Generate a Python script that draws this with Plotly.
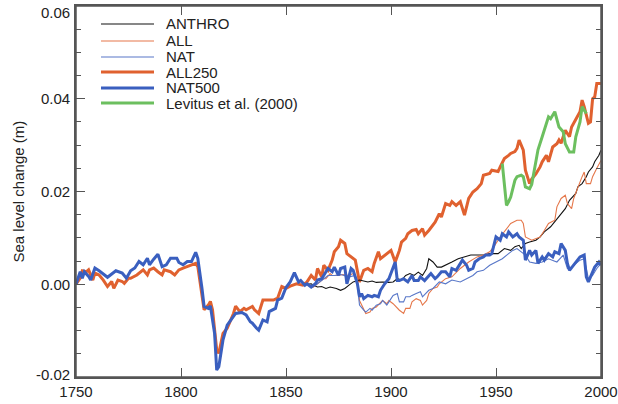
import plotly.graph_objects as go

# ALL250 (thick orange)
all250_years = [1750, 1752, 1753, 1755, 1756, 1758, 1759, 1761, 1763, 1765, 1767, 1768, 1770,
                1772, 1773, 1775, 1776, 1778, 1779, 1782, 1784, 1785, 1787, 1789, 1791, 1792,
                1795, 1797, 1799, 1801, 1803, 1805, 1807, 1808, 1810, 1811, 1813, 1814, 1815,
                1817, 1818, 1820, 1822, 1823, 1825, 1826, 1828, 1830, 1831, 1834, 1835, 1837,
                1839, 1841, 1844, 1846, 1848, 1850, 1852, 1855, 1857, 1858, 1860, 1862, 1864,
                1865, 1867, 1868, 1870, 1872, 1873, 1875, 1876, 1878, 1879, 1881, 1883, 1885,
                1887, 1889, 1891, 1892, 1894, 1895, 1897, 1898, 1900, 1902, 1904, 1905, 1907,
                1908, 1910, 1912, 1913, 1915, 1916, 1918, 1921, 1923, 1924, 1926, 1928, 1929,
                1931, 1933, 1935, 1937, 1939, 1941, 1943, 1944, 1947, 1948, 1951, 1952, 1954,
                1956, 1957, 1959, 1960, 1961, 1963, 1964, 1966, 1967, 1969, 1971, 1972, 1974,
                1975, 1977, 1979, 1980, 1981, 1983, 1985, 1986, 1988, 1990, 1991, 1992, 1994,
                1995, 1996, 1997, 1998, 2000]
all250_vals = [0.0, 0.0013, 0.0029, 0.0027, 0.0031, 0.0009, 0.0024, 0.0020, 0.0009, -0.0005,
               0.0006, -0.0009, 0.0009, 0.0006, 0.0002, 0.0013, 0.0013, 0.0017, 0.0020, 0.0031,
               0.0020, 0.0031, 0.0035, 0.0027, 0.0020, 0.0031, 0.0027, 0.0020, 0.0031, 0.0035,
               0.0038, 0.0042, 0.0045, 0.0038, -0.0026, -0.0055, -0.0045, -0.0037, -0.0055,
               -0.0141, -0.0149, -0.0106, -0.0095, -0.0084, -0.0063, -0.0047, -0.0059, -0.0052,
               -0.0055, -0.0048, -0.0055, -0.0063, -0.0034, -0.0034, -0.0034, -0.0030, -0.0005,
               -0.0009, -0.0004, 0.0001, 0.0000, -0.0002, 0.0005, 0.0019, 0.0009, 0.0034,
               0.0016, 0.0041, 0.0030, 0.0052, 0.0070, 0.0081, 0.0095, 0.0088, 0.0066, 0.0059,
               0.0052, 0.0005, 0.0030, 0.0034, 0.0027, 0.0045, 0.0070, 0.0055, 0.0063, 0.0066,
               0.0073, 0.0048, 0.0073, 0.0091, 0.0099, 0.0109, 0.0116, 0.0118, 0.0109, 0.0120,
               0.0106, 0.0116, 0.0134, 0.0152, 0.0145, 0.0174, 0.0170, 0.0178, 0.0170, 0.0178,
               0.0149, 0.0185, 0.0199, 0.0206, 0.0217, 0.0235, 0.0239, 0.0246, 0.0243, 0.0253,
               0.0271, 0.0278, 0.0282, 0.0286, 0.0293, 0.0311, 0.0289, 0.0246, 0.0217, 0.0227,
               0.0238, 0.0253, 0.0264, 0.0278, 0.0264, 0.0296, 0.0303, 0.0311, 0.0304, 0.0332,
               0.0318, 0.0339, 0.0354, 0.0372, 0.0397, 0.0383, 0.0347, 0.0350, 0.0400, 0.0404,
               0.0433, 0.0433]

# NAT500 (thick blue)
nat500_years = [1750, 1752, 1753, 1754, 1756, 1757, 1759, 1761, 1765, 1767, 1769, 1772, 1774,
                1776, 1778, 1780, 1782, 1784, 1785, 1787, 1789, 1791, 1793, 1795, 1798, 1799,
                1801, 1803, 1805, 1807, 1808, 1810, 1811, 1813, 1814, 1816, 1817, 1818, 1820,
                1822, 1824, 1826, 1829, 1831, 1833, 1834, 1836, 1837, 1839, 1841, 1842, 1845,
                1846, 1848, 1850, 1852, 1854, 1856, 1857, 1859, 1860, 1862, 1864, 1865, 1867,
                1868, 1870, 1872, 1873, 1875, 1876, 1878, 1879, 1881, 1882, 1884, 1885, 1886,
                1887, 1889, 1891, 1892, 1894, 1895, 1897, 1899, 1900, 1902, 1903, 1904, 1906,
                1908, 1910, 1911, 1913, 1914, 1916, 1918, 1919, 1921, 1922, 1924, 1926, 1928,
                1929, 1931, 1933, 1934, 1936, 1937, 1939, 1940, 1942, 1944, 1945, 1947, 1948,
                1950, 1952, 1953, 1955, 1956, 1958, 1960, 1961, 1963, 1964, 1966, 1967, 1969,
                1970, 1972, 1973, 1975, 1977, 1978, 1980, 1981, 1983, 1984, 1985, 1987, 1988,
                1990, 1992, 1993, 1994, 1996, 1997, 1999, 2000]
nat500_vals = [0.0, 0.0027, 0.0013, 0.0027, 0.0017, 0.0009, 0.0035, 0.0029, 0.0015, 0.0022,
               0.0029, 0.0024, 0.0013, 0.0029, 0.0035, 0.0049, 0.0042, 0.0056, 0.0042, 0.0054,
               0.0065, 0.0038, 0.0042, 0.0056, 0.0056, 0.0047, 0.0042, 0.0049, 0.0049, 0.0069,
               0.0056, -0.0009, -0.0048, -0.0052, -0.0047, -0.0106, -0.0185, -0.0178, -0.0120,
               -0.0088, -0.0075, -0.0063, -0.0061, -0.0066, -0.0081, -0.0084, -0.0095, -0.0099,
               -0.0077, -0.0081, -0.0059, -0.0052, -0.0034, -0.0030, -0.0007, 0.0005, 0.0025,
               0.0005, 0.0008, -0.0002, 0.0001, -0.0006, 0.0001, 0.0009, 0.0012, 0.0019, 0.0034,
               0.0027, 0.0037, 0.0019, 0.0034, 0.0037, 0.0001, 0.0034, 0.0030, 0.0001, -0.0027,
               -0.0020, -0.0031, -0.0024, -0.0027, -0.0024, -0.0027, -0.0013, 0.0001, 0.0012,
               0.0023, 0.0048, 0.0008, 0.0008, 0.0012, 0.0005, 0.0019, 0.0008, 0.0008, 0.0016,
               0.0008, 0.0019, 0.0023, 0.0012, 0.0016, 0.0027, 0.0027, 0.0016, 0.0034, 0.0030,
               0.0045, 0.0052, 0.0041, 0.0030, 0.0034, 0.0048, 0.0055, 0.0059, 0.0063, 0.0063,
               0.0066, 0.0102, 0.0095, 0.0109, 0.0102, 0.0113, 0.0102, 0.0109, 0.0102, 0.0095,
               0.0052, 0.0073, 0.0063, 0.0073, 0.0045, 0.0059, 0.0052, 0.0066, 0.0059, 0.0070,
               0.0066, 0.0088, 0.0073, 0.0045, 0.0030, 0.0041, 0.0048, 0.0059, 0.0063, 0.0016,
               0.0005, 0.0027, 0.0037, 0.0048, 0.0041]

# ANTHRO (thin black)
anthro_years = [1860, 1862, 1863, 1865, 1867, 1869, 1871, 1874, 1876, 1878, 1880, 1882, 1885,
                1887, 1889, 1891, 1893, 1896, 1899, 1901, 1903, 1905, 1907, 1909, 1911, 1913,
                1915, 1917, 1918, 1920, 1922, 1924, 1926, 1929, 1932, 1935, 1938, 1941, 1944,
                1947, 1951, 1954, 1957, 1959, 1961, 1962, 1964, 1966, 1969, 1971, 1973, 1976,
                1978, 1981, 1983, 1985, 1988, 1989, 1991, 1993, 1994, 1996, 1997, 1999, 2000]
anthro_vals = [0.0, 0.0001, -0.0002, -0.0006, -0.0005, -0.0009, -0.0006, -0.0009, -0.0013,
               -0.0009, -0.0002, 0.0005, 0.0009, 0.0007, 0.0005, 0.0007, 0.0004, 0.0005, 0.0004,
               0.0005, 0.0012, 0.0009, 0.0019, 0.0023, 0.0019, 0.0026, 0.0019, 0.0034, 0.0055,
               0.0048, 0.0037, 0.0037, 0.0041, 0.0048, 0.0055, 0.0059, 0.0063, 0.0063, 0.0063,
               0.0066, 0.0066, 0.0077, 0.0073, 0.0081, 0.0084, 0.0077, 0.0088, 0.0091, 0.0095,
               0.0102, 0.0113, 0.0124, 0.0135, 0.0150, 0.0163, 0.0181, 0.0196, 0.0210, 0.0217,
               0.0232, 0.0242, 0.0253, 0.0264, 0.0278, 0.0289]

# ALL (thin orange)
all_years = [1860, 1863, 1865, 1868, 1869, 1871, 1872, 1875, 1877, 1880, 1882, 1884, 1885,
             1887, 1888, 1890, 1891, 1893, 1895, 1896, 1898, 1899, 1901, 1903, 1904, 1906,
             1907, 1909, 1910, 1912, 1914, 1915, 1917, 1918, 1920, 1922, 1923, 1926, 1929,
             1933, 1937, 1941, 1944, 1947, 1949, 1952, 1955, 1957, 1960, 1962, 1963, 1964,
             1967, 1969, 1971, 1973, 1975, 1978, 1979, 1981, 1983, 1984, 1986, 1987, 1989,
             1991, 1992, 1993, 1995, 1996, 1998, 2000]
all_vals = [0.0, -0.0006, 0.0001, 0.0012, 0.0012, 0.0023, 0.0019, 0.0019, 0.0021, 0.0019,
            0.0023, 0.0012, -0.0035, -0.0056, -0.0063, -0.0060, -0.0052, -0.0049, -0.0038,
            -0.0035, -0.0042, -0.0035, -0.0042, -0.0052, -0.0056, -0.0063, -0.0052, -0.0052,
            -0.0038, -0.0031, -0.0035, -0.0045, -0.0035, -0.0020, -0.0009, -0.0006, 0.0001,
            0.0012, 0.0016, 0.0034, 0.0048, 0.0059, 0.0063, 0.0070, 0.0081, 0.0102, 0.0120,
            0.0131, 0.0138, 0.0138, 0.0131, 0.0102, 0.0095, 0.0099, 0.0102, 0.0116, 0.0131,
            0.0138, 0.0167, 0.0185, 0.0192, 0.0174, 0.0163, 0.0185, 0.0210, 0.0232, 0.0242,
            0.0217, 0.0217, 0.0232, 0.0250, 0.0267]

# NAT (thin blue)
nat_years = [1860, 1862, 1864, 1867, 1870, 1873, 1876, 1880, 1883, 1884, 1885, 1887, 1888,
             1890, 1891, 1893, 1895, 1896, 1898, 1899, 1901, 1903, 1904, 1906, 1907, 1909,
             1910, 1912, 1914, 1915, 1917, 1918, 1920, 1922, 1923, 1926, 1929, 1933, 1936,
             1939, 1941, 1944, 1947, 1950, 1953, 1956, 1958, 1960, 1963, 1964, 1966, 1969,
             1972, 1975, 1979, 1982, 1984, 1986, 1990, 1992, 1994, 1996, 1998, 2000]
nat_vals = [0.0, -0.0006, -0.0002, 0.0009, 0.0019, 0.0019, 0.0021, 0.0016, 0.0019, -0.0002,
            -0.0045, -0.0056, -0.0060, -0.0052, -0.0056, -0.0045, -0.0042, -0.0035, -0.0045,
            -0.0038, -0.0024, -0.0020, -0.0038, -0.0038, -0.0027, -0.0027, -0.0024, -0.0020,
            -0.0016, -0.0027, -0.0016, -0.0013, -0.0009, 0.0001, 0.0005, 0.0001, 0.0009,
            0.0005, 0.0012, 0.0019, 0.0027, 0.0030, 0.0041, 0.0048, 0.0055, 0.0066, 0.0073,
            0.0077, 0.0066, 0.0063, 0.0048, 0.0045, 0.0048, 0.0055, 0.0048, 0.0063, 0.0034,
            0.0037, 0.0052, 0.0055, 0.0012, 0.0019, 0.0034, 0.0045]

# Levitus et al. (2000) (green)
levitus_years = [1953, 1955, 1956, 1957, 1959, 1960, 1962, 1963, 1964, 1966, 1967, 1969, 1970,
                 1972, 1975, 1976, 1978, 1980, 1982, 1983, 1985, 1987, 1988, 1990, 1991, 1993]
levitus_vals = [0.0260, 0.0170, 0.0178, 0.0188, 0.0224, 0.0232, 0.0235, 0.0232, 0.0210,
                0.0206, 0.0215, 0.0260, 0.0290, 0.0318, 0.0361, 0.0357, 0.0372, 0.0339,
                0.0329, 0.0303, 0.0285, 0.0285, 0.0318, 0.0350, 0.0383, 0.0368]

y_ticks = [-0.02, 0.0, 0.02, 0.04, 0.06]
y_ticklabels = ["-0.02", "0.00", "0.02", "0.04", "0.06"]

ORANGE = "#e0612f"
BLUE = "#3a5fbf"
AXIS = "#555555"
series = [
    ("ANTHRO", anthro_years, anthro_vals, "#111111", 1.1),
    ("ALL", all_years, all_vals, "#e5774a", 1.1),
    ("NAT", nat_years, nat_vals, "#5877c8", 1.1),
    ("ALL250", all250_years, all250_vals, ORANGE, 3),
    ("NAT500", nat500_years, nat500_vals, BLUE, 3),
    ("Levitus et al. (2000)", levitus_years, levitus_vals, "#6cbf5f", 3),
]

FONT = "Liberation Sans, Arial, Helvetica, sans-serif"

fig = go.Figure()
# draw thin lines first, thick ones on top
draw_order = [3, 5, 0, 1, 2, 4]
for i in draw_order:
    name, xs, ys, color, width = series[i]
    fig.add_trace(go.Scatter(x=xs, y=ys, mode="lines", name=name,
                             line=dict(color=color, width=width),
                             showlegend=False))

# manual legend (tight row spacing like the original)
row_y = [24, 41, 57, 72, 88, 103]
plot_top, plot_bottom, plot_left, plot_right = 6, 377, 76, 601
pw = plot_right - plot_left
ph = plot_bottom - plot_top
for (name, _, _, color, width), py in zip(series, row_y):
    yp = (plot_bottom - py) / ph
    fig.add_shape(type="line", xref="paper", yref="paper",
                  x0=(101 - plot_left) / pw, x1=(154 - plot_left) / pw,
                  y0=yp, y1=yp, line=dict(color=color, width=width))
    fig.add_annotation(x=(164 - plot_left) / pw, y=yp, xref="paper", yref="paper",
                       text=name, showarrow=False, xanchor="left", yanchor="middle",
                       font=dict(family=FONT, size=15, color="#222222"))

# frame around the plot area
fig.add_shape(type="rect", xref="paper", yref="paper", x0=0, x1=1, y0=0, y1=1,
              line=dict(color=AXIS, width=1.5), layer="above")

# y tick labels as text so the top one can sit inside the page
for v, lab in zip(y_ticks, y_ticklabels):
    shift = -6 if v == max(y_ticks) else (3 if v == min(y_ticks) else 0)
    fig.add_annotation(x=0, y=v, xref="paper", yref="y", text=lab, showarrow=False,
                       xanchor="right", yanchor="middle", xshift=-4, yshift=shift,
                       font=dict(family=FONT, size=15, color="#222222"))

# y-axis title
fig.add_annotation(x=(18 - plot_left) / pw, y=0.5, xref="paper", yref="paper",
                   xanchor="center", yanchor="middle",
                   text="Sea level change (m)", showarrow=False, textangle=-90,
                   font=dict(family=FONT, size=15, color="#222222"))

fig.update_layout(
    width=618, height=404,
    margin=dict(l=plot_left, r=618 - plot_right, t=plot_top, b=404 - plot_bottom),
    paper_bgcolor="white", plot_bgcolor="white",
    font=dict(family=FONT, size=15, color="#222222"),
)
fig.update_xaxes(
    range=[1750, 2000], tickvals=[1750, 1800, 1850, 1900, 1950, 2000],
    showgrid=False, zeroline=False, showline=True, linecolor=AXIS, linewidth=1.5,
    mirror="ticks", ticks="inside", ticklen=9, tickcolor=AXIS, tickwidth=1.2,
    automargin=False, ticklabeloverflow="allow",
)
fig.update_yaxes(
    range=[-0.02, 0.06], tickvals=y_ticks, showticklabels=False,
    showgrid=False, zeroline=False, showline=True, linecolor=AXIS, linewidth=1.5,
    mirror="ticks", ticks="inside", ticklen=9, tickcolor=AXIS, tickwidth=1.2,
    minor=dict(dtick=0.005, ticks="inside", ticklen=5, tickcolor=AXIS, showgrid=False),
    automargin=False,
)

fig.write_html("out.html", config={"displayModeBar": False},
               post_script="document.body.style.margin = '0';")
